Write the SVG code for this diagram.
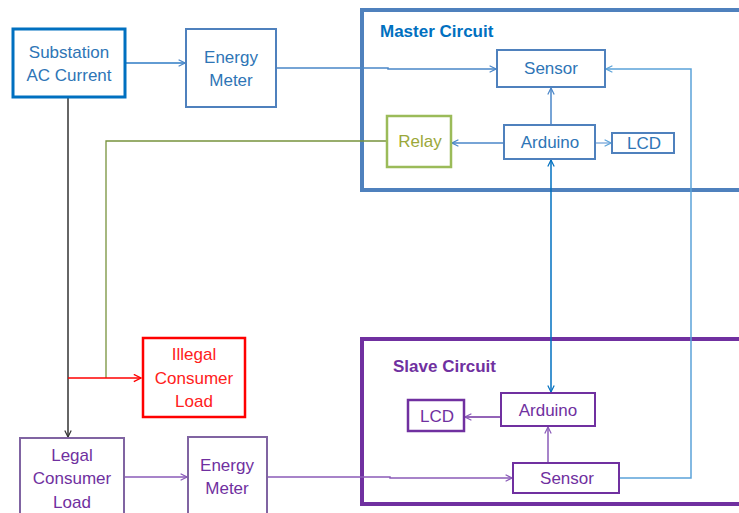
<svg xmlns="http://www.w3.org/2000/svg" width="739" height="513" viewBox="0 0 739 513">
<defs>
<style>
text{font-family:"Liberation Sans",Arial,sans-serif;font-size:17px;text-anchor:middle;dominant-baseline:central}
.b{fill:#fff}
.t{font-weight:bold;font-size:17px;text-anchor:start}
.c{fill:none}
</style>
<marker id="ab" viewBox="0 0 10 10" refX="9" refY="5" markerWidth="8" markerHeight="8" orient="auto-start-reverse" markerUnits="userSpaceOnUse"><path d="M1,1 L9,5 L1,9" fill="none" stroke="#4A86C8" stroke-width="1.5"/></marker>
<marker id="ab2" viewBox="0 0 10 10" refX="9" refY="5" markerWidth="8" markerHeight="8" orient="auto-start-reverse" markerUnits="userSpaceOnUse"><path d="M1,1 L9,5 L1,9" fill="none" stroke="#0070C0" stroke-width="1.5"/></marker>
<marker id="al" viewBox="0 0 10 10" refX="9" refY="5" markerWidth="8" markerHeight="8" orient="auto-start-reverse" markerUnits="userSpaceOnUse"><path d="M1,1 L9,5 L1,9" fill="none" stroke="#5BA3D9" stroke-width="1.5"/></marker>
<marker id="ak" viewBox="0 0 10 10" refX="9" refY="5" markerWidth="8" markerHeight="8" orient="auto" markerUnits="userSpaceOnUse"><path d="M1,1 L9,5 L1,9" fill="none" stroke="#333" stroke-width="1.5"/></marker>
<marker id="ar" viewBox="0 0 10 10" refX="9" refY="5" markerWidth="9" markerHeight="9" orient="auto" markerUnits="userSpaceOnUse"><path d="M1,1 L9,5 L1,9" fill="none" stroke="#FF0000" stroke-width="1.5"/></marker>
<marker id="ap" viewBox="0 0 10 10" refX="9" refY="5" markerWidth="8" markerHeight="8" orient="auto" markerUnits="userSpaceOnUse"><path d="M1,1 L9,5 L1,9" fill="none" stroke="#8A5BB8" stroke-width="1.5"/></marker>
</defs>
<rect width="739" height="513" fill="#fff"/>

<g id="master-circuit">
<rect x="362" y="10" width="390" height="180" fill="none" stroke="#4F81BD" stroke-width="4"/>
<text class="t" x="380" y="31" fill="#0070C0">Master Circuit</text>
</g>
<g id="slave-circuit">
<rect x="362" y="339" width="390" height="165" fill="none" stroke="#7030A0" stroke-width="4"/>
<text class="t" x="393" y="366" fill="#7030A0">Slave Circuit</text>
</g>

<g id="connectors" fill="none">
<path d="M125,63 H185" stroke="#2E7BC4" stroke-width="1.5" marker-end="url(#ab)"/>
<path d="M276,68 H388 V69 H496" stroke="#4A86C8" stroke-width="1.5" marker-end="url(#ab)"/>
<path d="M618,478 H691 V69 H606" stroke="#5BA3D9" stroke-width="1.5" marker-end="url(#al)"/>
<path d="M551,125 V88" stroke="#4A86C8" stroke-width="1.5" marker-end="url(#ab)"/>
<path d="M504,143 H452" stroke="#4A86C8" stroke-width="1.5" marker-end="url(#ab)"/>
<path d="M595,143 H611" stroke="#8AB2DE" stroke-width="1.5" marker-end="url(#al)"/>
<path d="M551,160 V392" stroke="#0070C0" stroke-width="1.5" marker-start="url(#ab2)" marker-end="url(#ab2)"/>
<path d="M387,141 H106 V378" stroke="#77933C" stroke-width="1.3"/>
<path d="M68,97 V437" stroke="#333" stroke-width="1.5" marker-end="url(#ak)"/>
<path d="M68,378 H141" stroke="#FF0000" stroke-width="1.5" marker-end="url(#ar)"/>
<path d="M124,477 H187" stroke="#8A5BB8" stroke-width="1.5" marker-end="url(#ap)"/>
<path d="M267,477 H390 V478 H512" stroke="#8A5BB8" stroke-width="1.5" marker-end="url(#ap)"/>
<path d="M501,417 H465" stroke="#7030A0" stroke-width="1.5" marker-end="url(#ap)"/>
<path d="M548,463 V427" stroke="#8A5BB8" stroke-width="1.5" marker-end="url(#ap)"/>
</g>

<g id="substation">
<rect class="b" x="13" y="29" width="112" height="68" stroke="#0070C0" stroke-width="3"/>
<text x="69" y="52" fill="#2E75B6">Substation</text>
<text x="69" y="75" fill="#2E75B6">AC Current</text>
</g>
<g id="energy-meter-top">
<rect class="b" x="186" y="29" width="90" height="78" stroke="#4F81BD" stroke-width="2"/>
<text x="231" y="57" fill="#2E75B6">Energy</text>
<text x="231" y="80" fill="#2E75B6">Meter</text>
</g>
<g id="master-sensor">
<rect class="b" x="497" y="50" width="108" height="37" stroke="#4F81BD" stroke-width="2"/>
<text x="551" y="68" fill="#2E75B6">Sensor</text>
</g>
<g id="relay">
<rect class="b" x="387" y="116" width="64" height="51" stroke="#9BBB59" stroke-width="2.5"/>
<text x="420" y="141" fill="#9BA83A">Relay</text>
</g>
<g id="master-arduino">
<rect class="b" x="504" y="125" width="91" height="34" stroke="#4F81BD" stroke-width="2"/>
<text x="550" y="142" fill="#2E75B6">Arduino</text>
</g>
<g id="master-lcd">
<rect class="b" x="612" y="133" width="62" height="20" stroke="#4F81BD" stroke-width="2"/>
<text x="644" y="143" fill="#2E75B6">LCD</text>
</g>
<g id="illegal-load">
<rect class="b" x="143" y="338" width="102" height="79" stroke="#FF0000" stroke-width="2.5"/>
<text x="194" y="354" fill="#FF2020">Illegal</text>
<text x="194" y="378" fill="#FF2020">Consumer</text>
<text x="194" y="401" fill="#FF2020">Load</text>
</g>
<g id="legal-load">
<rect class="b" x="20" y="438" width="104" height="90" stroke="#8064A2" stroke-width="2"/>
<text x="72" y="455" fill="#7030A0">Legal</text>
<text x="72" y="478" fill="#7030A0">Consumer</text>
<text x="72" y="502" fill="#7030A0">Load</text>
</g>
<g id="energy-meter-bottom">
<rect class="b" x="188" y="437" width="79" height="90" stroke="#8064A2" stroke-width="2"/>
<text x="227" y="465" fill="#7030A0">Energy</text>
<text x="227" y="488" fill="#7030A0">Meter</text>
</g>
<g id="slave-arduino">
<rect class="b" x="501" y="393" width="94" height="33" stroke="#7030A0" stroke-width="2"/>
<text x="548" y="410" fill="#7030A0">Arduino</text>
</g>
<g id="slave-lcd">
<rect class="b" x="408" y="400" width="56" height="31" stroke="#7030A0" stroke-width="2.5"/>
<text x="437" y="416" fill="#7030A0">LCD</text>
</g>
<g id="slave-sensor">
<rect class="b" x="513" y="463" width="106" height="30" stroke="#7030A0" stroke-width="2"/>
<text x="567" y="478" fill="#7030A0">Sensor</text>
</g>
</svg>
